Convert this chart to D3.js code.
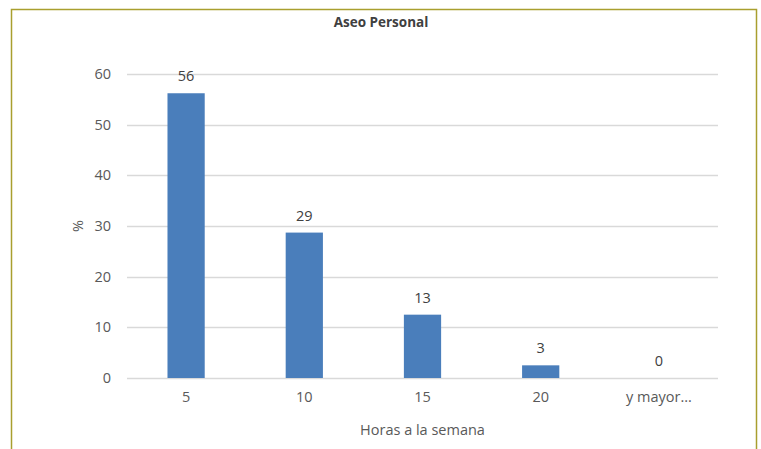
<!DOCTYPE html>
<html>
<head>
<meta charset="utf-8">
<script src="https://cdn.jsdelivr.net/npm/d3@7"></script>
<style>
  body { margin: 0; background: #fff; }
  text { font-family: "Open Sans", "Noto Sans", sans-serif; fill: #595959; }
</style>
</head>
<body>
<div id="wrapper"></div>
<script>
const categories = ["5", "10", "15", "20", "y mayor..."];
const values = [56.2, 28.7, 12.5, 2.5, 0];
const yTicks = [0, 10, 20, 30, 40, 50, 60];

const dimensions = {
  width: 761,
  height: 449,
  margin: { top: 74, right: 43, bottom: 71, left: 127 },
};
dimensions.boundedWidth = dimensions.width - dimensions.margin.left - dimensions.margin.right;
dimensions.boundedHeight = dimensions.height - dimensions.margin.top - dimensions.margin.bottom;

const svg = d3.select("#wrapper").append("svg")
  .attr("width", dimensions.width)
  .attr("height", dimensions.height);

// chart frame (bottom edge is cut off in the picture)
svg.append("path")
  .attr("d", "M11.5,460 V9.5 H756.5 V460")
  .attr("fill", "none")
  .attr("stroke", "#a99f2e")
  .attr("stroke-width", 1.5);

svg.append("text")
  .attr("x", 381)
  .attr("y", 27)
  .attr("text-anchor", "middle")
  .style("font-size", "13.5px")
  .style("font-weight", "bold")
  .style("fill", "#404040")
  .text("Aseo Personal");

const bounds = svg.append("g")
  .attr("transform", `translate(${dimensions.margin.left},${dimensions.margin.top})`);

const xScale = d3.scaleBand()
  .domain(categories)
  .range([0, dimensions.boundedWidth])
  .paddingInner(0.685)
  .paddingOuter(0.3425);

const yScale = d3.scaleLinear()
  .domain([0, 60])
  .range([dimensions.boundedHeight, 0]);

// gridlines
bounds.append("g")
  .selectAll("line")
  .data(yTicks)
  .join("line")
    .attr("x1", 0)
    .attr("x2", dimensions.boundedWidth)
    .attr("y1", d => Math.round(yScale(d)) + 0.5)
    .attr("y2", d => Math.round(yScale(d)) + 0.5)
    .attr("stroke", "#d9d9d9")
    .attr("stroke-width", 1.3);

// y axis labels
const yAxis = bounds.append("g")
  .call(d3.axisLeft(yScale).tickValues(yTicks).tickSize(0).tickPadding(16));
yAxis.select(".domain").remove();
yAxis.selectAll("text").style("font-size", "14.5px").style("fill", "#595959");

// bars
bounds.append("g")
  .selectAll("rect")
  .data(values)
  .join("rect")
    .attr("x", (d, i) => xScale(categories[i]))
    .attr("width", xScale.bandwidth())
    .attr("y", d => yScale(d))
    .attr("height", d => dimensions.boundedHeight - yScale(d))
    .attr("fill", "#4a7ebb");

// data labels
bounds.append("g")
  .selectAll("text")
  .data(values)
  .join("text")
    .attr("x", (d, i) => xScale(categories[i]) + xScale.bandwidth() / 2)
    .attr("y", d => yScale(d) - 12)
    .attr("text-anchor", "middle")
    .style("font-size", "14.5px")
    .style("fill", "#404040")
    .text(d => Math.round(d));

// x axis labels
const xAxis = bounds.append("g")
  .attr("transform", `translate(0,${dimensions.boundedHeight})`)
  .call(d3.axisBottom(xScale).tickSize(0).tickPadding(14));
xAxis.select(".domain").remove();
xAxis.selectAll("text").style("font-size", "14.5px").style("fill", "#595959");

// axis titles
bounds.append("text")
  .attr("x", dimensions.boundedWidth / 2)
  .attr("y", dimensions.boundedHeight + 57)
  .attr("text-anchor", "middle")
  .style("font-size", "14.5px")
  .text("Horas a la semana");

bounds.append("text")
  .attr("transform", `translate(${78 - dimensions.margin.left + 5},${dimensions.boundedHeight / 2}) rotate(-90)`)
  .attr("text-anchor", "middle")
  .style("font-size", "14.5px")
  .text("%");
</script>
</body>
</html>
